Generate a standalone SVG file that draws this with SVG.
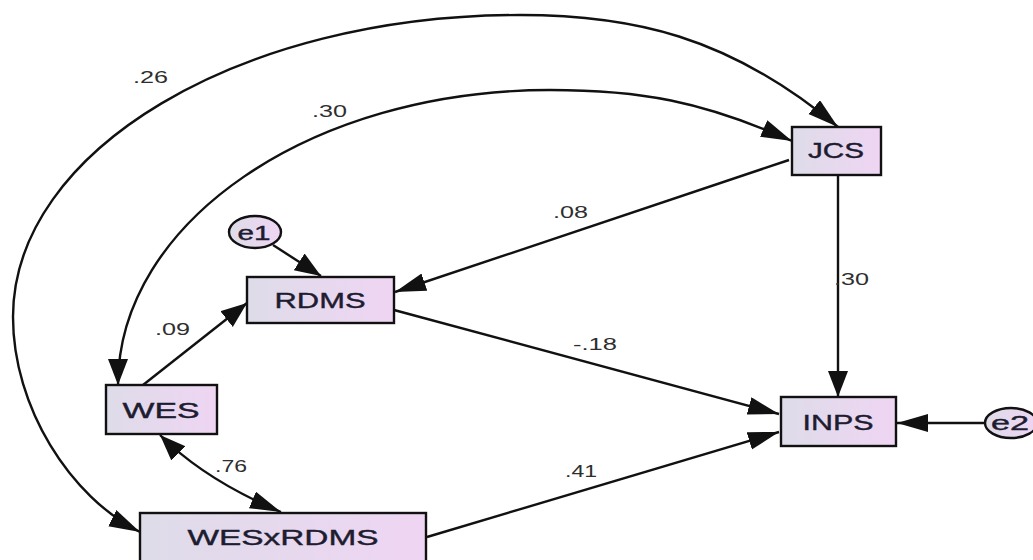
<svg xmlns="http://www.w3.org/2000/svg" width="1033" height="560" viewBox="0 0 1033 560">
  <style>
    .box { fill: url(#boxFill); stroke: #111; stroke-width: 2.4; }
    .err { fill: url(#boxFill); stroke: #111; stroke-width: 2.4; }
    .lbl { font-family: "Liberation Sans", Arial, sans-serif; font-size: 22px; fill: #1d1c30; stroke: #1d1c30; stroke-width: 0.4; text-anchor: middle; }
    .elbl { font-family: "Liberation Sans", Arial, sans-serif; font-size: 20px; fill: #1d1c30; stroke: #1d1c30; stroke-width: 0.4; text-anchor: middle; }
    .coef { font-family: "Liberation Sans", Arial, sans-serif; font-size: 17px; fill: #2e2e2e; }
    .edge { fill: none; stroke: #111; stroke-width: 2.4; }
  </style>
  <defs>
    <linearGradient id="boxFill" x1="0" y1="0" x2="1" y2="0">
      <stop offset="0" stop-color="#dedce9"/>
      <stop offset="1" stop-color="#efd5f3"/>
    </linearGradient>
    <marker id="head" markerUnits="userSpaceOnUse" markerWidth="34" markerHeight="20" refX="31" refY="9" orient="auto-start-reverse">
      <path d="M0,0 L31,9 L0,18 z" fill="#111"/>
    </marker>
    <marker id="headV" markerUnits="userSpaceOnUse" markerWidth="28" markerHeight="22" refX="26" refY="10" orient="auto-start-reverse">
      <path d="M0,0 L26,10 L0,20 z" fill="#111"/>
    </marker>
  </defs>

  <!-- connectors -->
  <g id="connectors">
    <!-- covariance WESxRDMS <-> JCS -->
    <path class="edge" marker-start="url(#head)" marker-end="url(#head)"
          d="M140,532 C70,497 13,407 13,317 C13,150 240,15 520,15 C630,15 728,35 838,127"/>
    <!-- covariance WES <-> JCS -->
    <path class="edge" marker-start="url(#headV)" marker-end="url(#head)"
          d="M118,385 C118,222 311,90 550,90 C640,90 702,101 792,141"/>
    <!-- JCS -> RDMS -->
    <path class="edge" marker-end="url(#head)" d="M789,160 L395,292"/>
    <!-- JCS -> INPS -->
    <path class="edge" marker-end="url(#headV)" d="M838,175 L838,397"/>
    <!-- RDMS -> INPS -->
    <path class="edge" marker-end="url(#head)" d="M394,310 L779,414"/>
    <!-- WESxRDMS -> INPS -->
    <path class="edge" marker-end="url(#head)" d="M427,537 L779,432"/>
    <!-- WES -> RDMS -->
    <path class="edge" marker-end="url(#headV)" d="M143,385 L247,303"/>
    <!-- e1 -> RDMS -->
    <path class="edge" marker-end="url(#headV)" d="M273,245 L321,276"/>
    <!-- e2 -> INPS -->
    <path class="edge" marker-end="url(#head)" d="M985,423 L897,423"/>
    <!-- WES <-> WESxRDMS -->
    <path class="edge" marker-start="url(#headV)" marker-end="url(#head)" d="M160,435 Q205,480 281,512"/>

    <!-- coefficients -->
    <text class="coef" x="133" y="83" textLength="35" lengthAdjust="spacingAndGlyphs">.26</text>
    <text class="coef" x="312" y="117" textLength="35" lengthAdjust="spacingAndGlyphs">.30</text>
    <text class="coef" x="553" y="218" textLength="35" lengthAdjust="spacingAndGlyphs">.08</text>
    <text class="coef" x="834" y="285" textLength="35" lengthAdjust="spacingAndGlyphs">.30</text>
    <text class="coef" x="155" y="335" textLength="35" lengthAdjust="spacingAndGlyphs">.09</text>
    <text class="coef" x="573" y="350" textLength="44" lengthAdjust="spacingAndGlyphs">-.18</text>
    <text class="coef" x="565" y="477" textLength="32" lengthAdjust="spacingAndGlyphs">.41</text>
    <text class="coef" x="215" y="472" textLength="32" lengthAdjust="spacingAndGlyphs">.76</text>
  </g>

  <g id="JCS">
    <rect class="box" x="792" y="127" width="89" height="48"/>
    <text class="lbl" x="836" y="158" textLength="56" lengthAdjust="spacingAndGlyphs">JCS</text>
  </g>
  <g id="RDMS">
    <rect class="box" x="247" y="277" width="147" height="46"/>
    <text class="lbl" x="320" y="308" textLength="91" lengthAdjust="spacingAndGlyphs">RDMS</text>
  </g>
  <g id="WES">
    <rect class="box" x="106" y="385" width="111" height="49"/>
    <text class="lbl" x="161" y="418" textLength="77" lengthAdjust="spacingAndGlyphs">WES</text>
  </g>
  <g id="WESxRDMS">
    <rect class="box" x="140" y="513" width="286" height="60"/>
    <text class="lbl" x="283" y="545" textLength="191" lengthAdjust="spacingAndGlyphs">WESxRDMS</text>
  </g>
  <g id="INPS">
    <rect class="box" x="781" y="397" width="115" height="49"/>
    <text class="lbl" x="838" y="430" textLength="71" lengthAdjust="spacingAndGlyphs">INPS</text>
  </g>
  <g id="e1">
    <ellipse class="err" cx="255" cy="232" rx="26" ry="16"/>
    <text class="elbl" x="254" y="240" textLength="33" lengthAdjust="spacingAndGlyphs">e1</text>
  </g>
  <g id="e2">
    <ellipse class="err" cx="1011" cy="423" rx="26" ry="15"/>
    <text class="elbl" x="1010" y="430" textLength="38" lengthAdjust="spacingAndGlyphs">e2</text>
  </g>
</svg>
